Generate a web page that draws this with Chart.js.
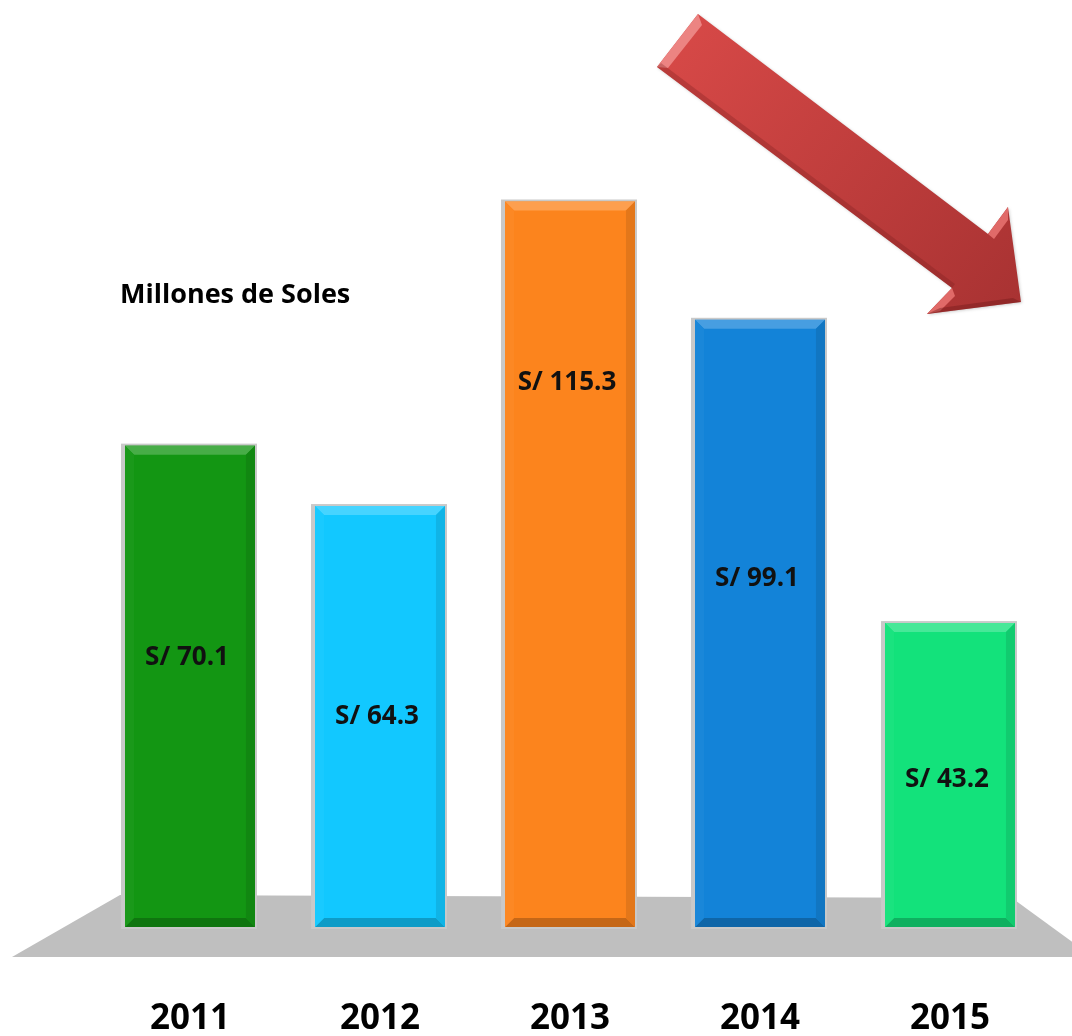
<!DOCTYPE html>
<html>
<head>
<meta charset="utf-8">
<script src="https://cdn.jsdelivr.net/npm/chart.js@4/dist/chart.umd.min.js"></script>
<style>
  html, body { margin: 0; padding: 0; background: #fff; }
  #wrap { width: 1072px; height: 1036px; }
</style>
</head>
<body>
<div id="wrap"><canvas id="chart"></canvas></div>
<script>
const years = ['2011', '2012', '2013', '2014', '2015'];
// amounts printed on the bars (millones de soles)
const amounts = [70.1, 64.3, 115.3, 99.1, 43.2];
// bar heights as drawn in the picture (same unit)
const barLevels = [76.5, 66.9, 115.3, 96.5, 48.3];
const amountLabels = amounts.map((v) => 'S/ ' + v.toFixed(1));
const barColors = ['#139613', '#12C8FF', '#FC841D', '#1383D8', '#13E27B'];

// where the amount sits inside each bar (share of the bar height, from bottom)
const labelLift = [0.56, 0.5, 0.75, 0.573, 0.484];

function shade(hex, amt) {
  const n = parseInt(hex.slice(1), 16);
  let r = (n >> 16) & 255, g = (n >> 8) & 255, b = n & 255;
  if (amt >= 0) {
    r = r + (255 - r) * amt; g = g + (255 - g) * amt; b = b + (255 - b) * amt;
  } else {
    r = r * (1 + amt); g = g * (1 + amt); b = b * (1 + amt);
  }
  return 'rgb(' + Math.round(r) + ',' + Math.round(g) + ',' + Math.round(b) + ')';
}

function poly(ctx, pts, color) {
  ctx.beginPath();
  ctx.moveTo(pts[0][0], pts[0][1]);
  for (let i = 1; i < pts.length; i++) ctx.lineTo(pts[i][0], pts[i][1]);
  ctx.closePath();
  ctx.fillStyle = color;
  ctx.fill();
}

const floorPlugin = {
  id: 'floor',
  beforeDatasetsDraw(chart) {
    const ctx = chart.ctx;
    const area = chart.chartArea;
    const base = chart.scales.y.getPixelForValue(0);
    ctx.save();
    poly(ctx, [
      [area.left + 25, base - 32],
      [area.right - 33, base - 29],
      [area.right + 48, base + 30],
      [12, base + 30],
    ], '#BFBFBF');
    ctx.restore();
  },
};

const bevelPlugin = {
  id: 'bevel',
  afterDatasetsDraw(chart) {
    const ctx = chart.ctx;
    const meta = chart.getDatasetMeta(0);
    ctx.save();
    meta.data.forEach((bar, i) => {
      const p = bar.getProps(['x', 'y', 'base', 'width'], true);
      const l = p.x - p.width / 2;
      const r = p.x + p.width / 2;
      const t = p.y;
      const b = p.base;
      const d = 9;
      const c = barColors[i];
      // grey frame
      ctx.fillStyle = '#C9C9C9';
      ctx.fillRect(l - 4, t - 2, p.width + 6, b - t + 4);
      ctx.fillStyle = c;
      ctx.fillRect(l, t, p.width, b - t);
      // bevel faces
      poly(ctx, [[l, t], [r, t], [r - d, t + d], [l + d, t + d]], shade(c, 0.22));
      poly(ctx, [[l, b], [r, b], [r - d, b - d], [l + d, b - d]], shade(c, -0.22));
      poly(ctx, [[l, t], [l + d, t + d], [l + d, b - d], [l, b]], shade(c, 0.03));
      poly(ctx, [[r, t], [r - d, t + d], [r - d, b - d], [r, b]], shade(c, -0.1));
      // amount text
      ctx.fillStyle = '#111';
      ctx.font = 'bold 26px "Open Sans", sans-serif';
      ctx.textAlign = 'center';
      ctx.textBaseline = 'middle';
      const cy = b - (b - t) * labelLift[i];
      ctx.fillText(amountLabels[i], p.x - 3, cy);
    });
    ctx.restore();
  },
};

const decorPlugin = {
  id: 'decor',
  afterDraw(chart) {
    const ctx = chart.ctx;
    ctx.save();
    // unit caption
    ctx.fillStyle = '#000';
    ctx.font = 'bold 27px "Open Sans", sans-serif';
    ctx.textAlign = 'left';
    ctx.textBaseline = 'middle';
    ctx.fillText('Millones de Soles', 120, 295);

    // falling red arrow
    const pts = [
      [698, 14], [988, 234], [1008, 207], [1021, 302],
      [927, 314], [952, 288], [657, 67],
    ];
    ctx.shadowColor = 'rgba(0,0,0,0.18)';
    ctx.shadowBlur = 3;
    ctx.shadowOffsetX = 1;
    ctx.shadowOffsetY = 1;
    const grad = ctx.createLinearGradient(660, 20, 1020, 310);
    grad.addColorStop(0, '#D94A48');
    grad.addColorStop(1, '#A83232');
    poly(ctx, pts, grad);
    ctx.shadowColor = 'transparent';
    // bevel highlights
    poly(ctx, [[698, 14], [657, 67], [668, 68], [702, 25]], '#EC8482');
    poly(ctx, [[988, 234], [1008, 207], [1008, 220], [994, 239]], '#E06A68');
    poly(ctx, [[927, 314], [952, 288], [955, 296], [940, 311]], '#E06A68');
    poly(ctx, [[657, 67], [952, 288], [955, 284], [661, 63]], 'rgba(120,30,30,0.3)');
    poly(ctx, [[1021, 302], [927, 314], [940, 308], [1013, 298]], 'rgba(110,25,25,0.4)');
    ctx.restore();
  },
};

new Chart(document.getElementById('chart'), {
  type: 'bar',
  data: {
    labels: years,
    datasets: [
      {
        data: barLevels,
        backgroundColor: barColors,
        borderWidth: 0,
        barPercentage: 0.684,
        categoryPercentage: 1,
      },
    ],
  },
  options: {
    responsive: true,
    maintainAspectRatio: false,
    animation: false,
    layout: {
      padding: { top: 109, left: 95, right: 27, bottom: 0 },
    },
    plugins: {
      legend: { display: false },
      tooltip: { enabled: false },
    },
    scales: {
      x: {
        grid: { display: false },
        border: { display: false },
        ticks: {
          padding: 63,
          color: '#000',
          font: { family: '"Open Sans", sans-serif', size: 35, weight: 'bold' },
        },
        afterFit(scale) {
          scale.height = 109;
        },
      },
      y: {
        display: false,
        min: 0,
        max: 130,
      },
    },
  },
  plugins: [floorPlugin, bevelPlugin, decorPlugin],
});
</script>
</body>
</html>
